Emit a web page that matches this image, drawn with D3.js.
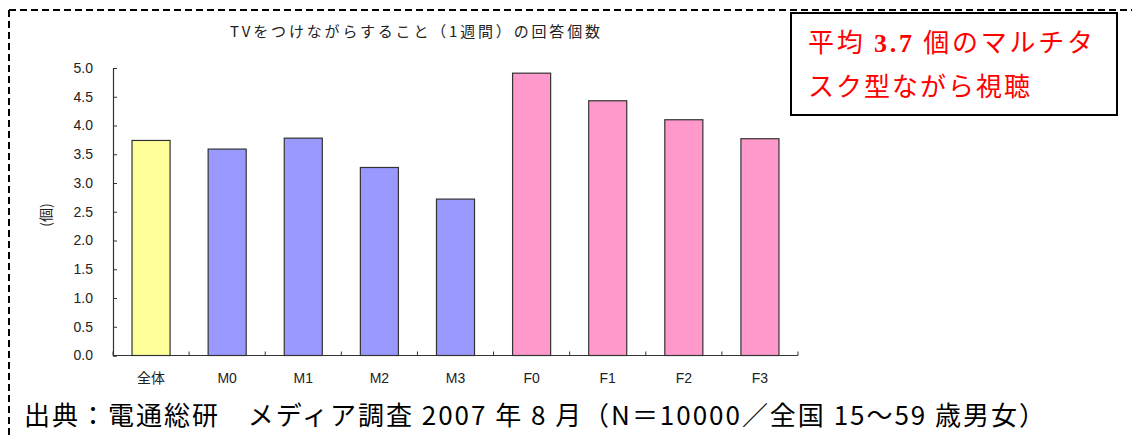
<!DOCTYPE html>
<html><head><meta charset="utf-8">
<script src="https://cdn.jsdelivr.net/npm/d3@7"></script>
<style>body{margin:0;background:#fff;}svg{display:block;}</style>
</head><body>
<script>
const categories = ["全体","M0","M1","M2","M3","F0","F1","F2","F3"];
const values = [3.74,3.59,3.78,3.27,2.72,4.91,4.43,4.10,3.77];
const groups = ["all","m","m","m","m","f","f","f","f"];
const yTicks = [0,0.5,1,1.5,2,2.5,3,3.5,4,4.5,5];
const colorMap = {all:"#ffff99", m:"#9999ff", f:"#ff99cc"};

const W=1132,H=439;
const svg=d3.select("body").append("svg").attr("width",W).attr("height",H);
const jp = "'Noto Sans CJK JP', sans-serif";
const lat = "Arial, 'Liberation Sans', sans-serif";

// dashed frame
svg.append("line").attr("x1",9).attr("x2",W).attr("y1",10).attr("y2",10)
  .attr("stroke","#000").attr("stroke-width",2).attr("stroke-dasharray","7,4");
svg.append("line").attr("x1",9).attr("x2",9).attr("y1",10).attr("y2",H)
  .attr("stroke","#000").attr("stroke-width",2).attr("stroke-dasharray","7,4");

const x=d3.scaleBand().domain(categories).range([113,798]).paddingInner(0.5).paddingOuter(0.25);
const y=d3.scaleLinear().domain([0,5]).range([355.5,68]);

// bars
svg.selectAll("rect.bar").data(categories).enter().append("rect")
  .attr("x",d=>x(d)).attr("width",x.bandwidth())
  .attr("y",(d,i)=>y(values[i])).attr("height",(d,i)=>y(0)-y(values[i]))
  .attr("fill",(d,i)=>colorMap[groups[i]]).attr("stroke","#333").attr("stroke-width",1.2);

// y axis
const ya=svg.append("g").attr("transform","translate(113,0)")
  .call(d3.axisLeft(y).tickValues(yTicks).tickFormat(d3.format(".1f")).tickSize(-4).tickPadding(20));
ya.select(".domain").attr("stroke","#333").attr("stroke-width",1.2);
ya.selectAll("line").attr("stroke","#333");
ya.selectAll("text").attr("font-family",lat).attr("font-size",14).attr("fill","#222");

// x axis with ticks at boundaries
const xa=svg.append("g").attr("transform","translate(0,355.5)");
xa.append("line").attr("x1",113).attr("x2",798).attr("stroke","#333").attr("stroke-width",1.2);
const bounds=d3.range(categories.length+1).map(i=>113+i*x.step());
xa.selectAll("line.t").data(bounds).enter().append("line")
  .attr("x1",d=>d).attr("x2",d=>d).attr("y1",0).attr("y2",-4).attr("stroke","#333");
xa.selectAll("text").data(categories).enter().append("text")
  .attr("x",d=>x(d)+x.bandwidth()/2).attr("y",27).attr("text-anchor","middle")
  .attr("font-family",d=>/[A-Z]/.test(d)?lat:jp)
  .attr("font-size",14).attr("fill","#222").text(d=>d);

// title
svg.append("text").attr("x",230).attr("y",37)
  .attr("font-family",jp).attr("font-size",15).attr("fill","#222")
  .attr("textLength",370).attr("lengthAdjust","spacing")
  .text("TVをつけながらすること（1週間）の回答個数");

// y label
svg.append("text").attr("transform","translate(51,215) rotate(-90)").attr("text-anchor","middle")
  .attr("font-family",jp).attr("font-size",14).attr("fill","#222").text("(個)");

// annotation box
svg.append("rect").attr("x",791).attr("y",13).attr("width",326).attr("height",102)
  .attr("fill","#fff").attr("stroke","#000").attr("stroke-width",2);
const ann=svg.append("text").attr("x",808).attr("y",52).attr("font-family",jp).attr("font-size",26).attr("fill","#ff0000")
  .attr("textLength",285).attr("lengthAdjust","spacing");
ann.append("tspan").text("平均 ");
ann.append("tspan").attr("font-family","'Liberation Serif', serif").attr("font-weight","bold").text("3.7");
ann.append("tspan").text(" 個のマルチタ");
svg.append("text").attr("x",808).attr("y",96).attr("font-family",jp).attr("font-size",26).attr("fill","#ff0000")
  .attr("textLength",222).attr("lengthAdjust","spacing").text("スク型ながら視聴");

// source
svg.append("text").attr("x",24).attr("y",425).attr("font-family",jp).attr("font-size",26).attr("fill","#000")
  .attr("textLength",1021).attr("lengthAdjust","spacing")
  .text("出典：電通総研　メディア調査 2007 年 8 月（N＝10000／全国 15〜59 歳男女）");
</script>
</body></html>
